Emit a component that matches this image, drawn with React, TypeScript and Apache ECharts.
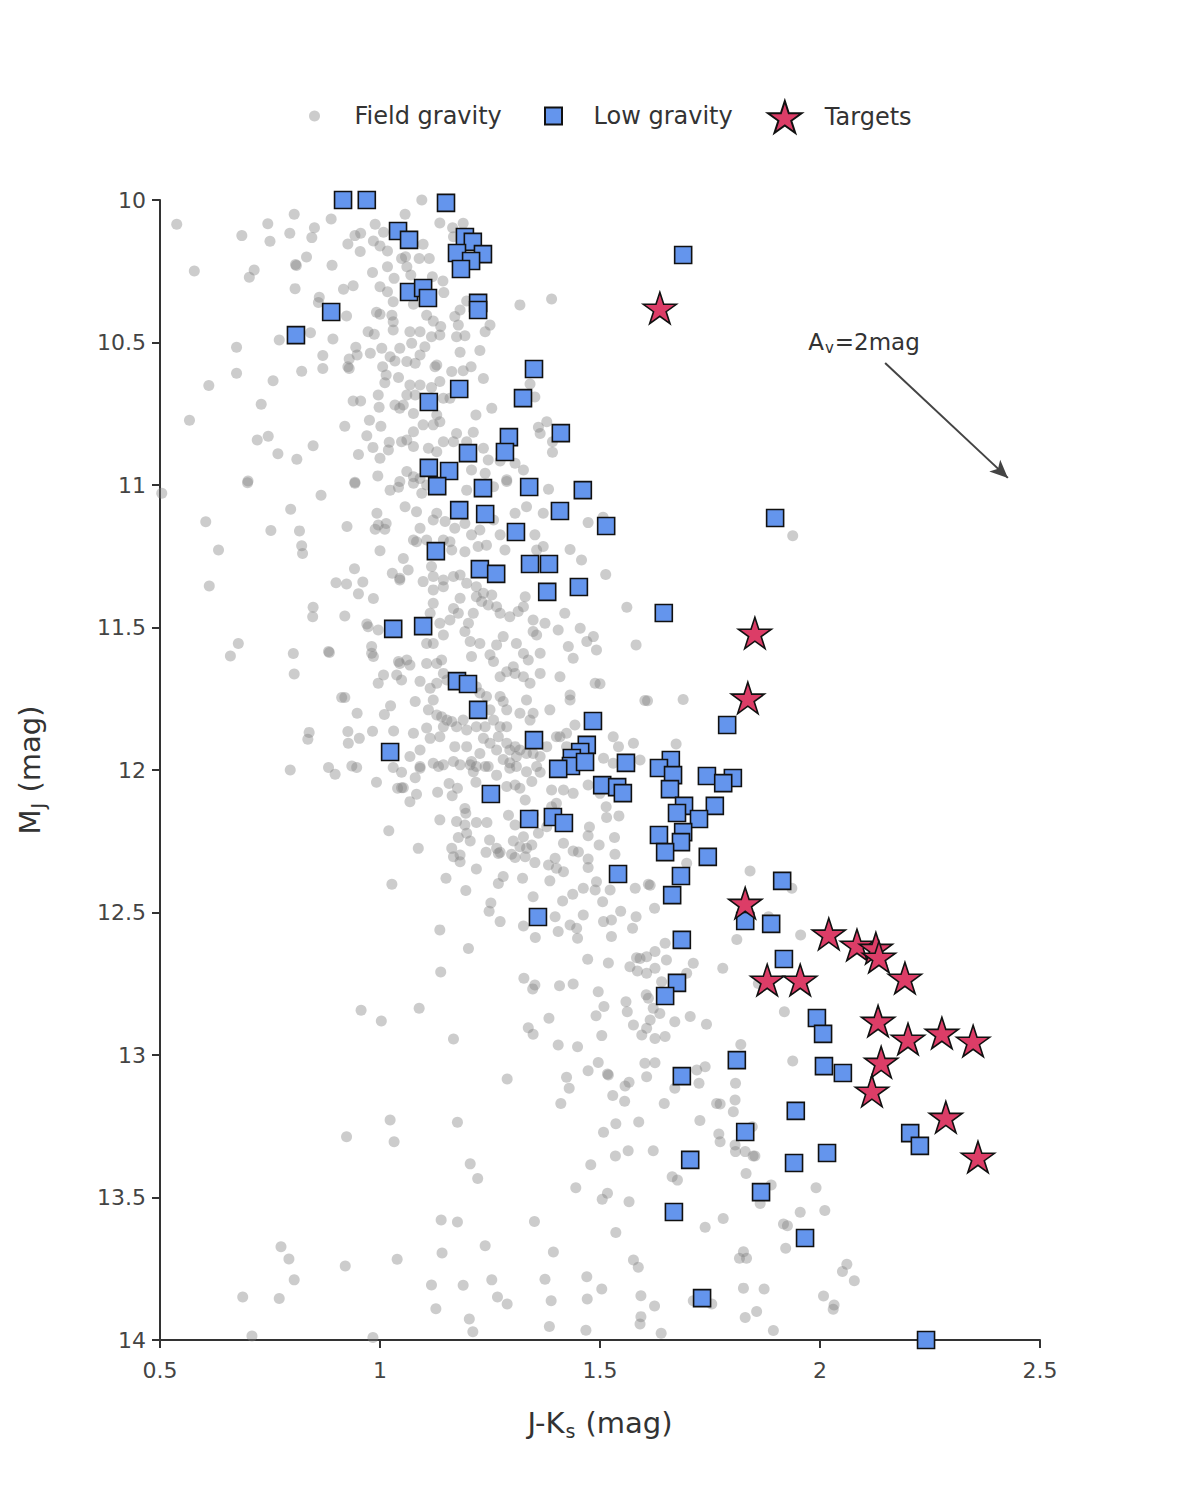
import React, { useEffect, useRef } from "react";
import * as echarts from "echarts";

// ---- Data (J-Ks, M_J) ----
const fieldGravity: number[][] = [
  [0.538,10.085],[0.578,10.249],[0.686,10.125],[0.745,10.083],[0.75,10.145],[0.805,10.05],[0.795,10.117],[0.714,10.246],[0.703,10.271],[0.808,10.226],[0.81,10.23],[0.833,10.2],[0.851,10.097],[0.845,10.132],[0.889,10.067],[0.891,10.229],[0.807,10.311],[0.917,10.313],[0.939,10.301],[0.862,10.341],[0.86,10.36],[0.924,10.407],[0.842,10.466],[0.771,10.491],[0.893,10.488],[0.674,10.517],[0.674,10.608],[0.611,10.651],[0.757,10.634],[0.822,10.601],[0.87,10.546],[0.87,10.591],[0.73,10.717],[0.567,10.773],[0.721,10.842],[0.746,10.829],[0.768,10.89],[0.811,10.91],[0.848,10.862],[0.7,10.986],[0.92,10.794],[0.943,10.99],
  [0.927,10.154],[0.943,10.125],[0.956,10.117],[0.955,10.181],[0.989,10.085],[1.008,10.113],[0.985,10.144],[1.0,10.161],[1.017,10.179],[0.983,10.254],[1.017,10.234],[1.032,10.275],[1.0,10.304],[1.017,10.322],[1.03,10.357],[1.049,10.205],[0.992,10.394],[1.0,10.401],[1.027,10.404],[1.03,10.427],[0.973,10.462],[0.987,10.471],[1.03,10.456],[0.945,10.517],[0.948,10.544],[0.978,10.538],[1.004,10.52],[1.045,10.52],[1.023,10.55],[1.034,10.565],[0.93,10.558],[0.927,10.585],[0.93,10.591],[1.006,10.585],[1.014,10.614],[1.011,10.641],[1.042,10.623],[0.996,10.684],[0.939,10.705],[0.956,10.705],[0.998,10.727],[1.034,10.719],[1.045,10.731],[0.976,10.773],[1.002,10.794],[0.97,10.827],[0.984,10.868],[1.021,10.85],[1.019,10.877],[1.0,10.906],[1.049,10.848],[0.951,10.893],[0.995,10.968],[1.045,10.988],
  [1.057,10.05],[1.095,10.0],[1.136,10.081],[1.189,10.082],[1.165,10.097],[1.167,10.129],[1.098,10.155],[1.058,10.199],[1.089,10.205],[1.112,10.205],[1.061,10.234],[1.07,10.263],[1.119,10.269],[1.143,10.284],[1.145,10.325],[1.076,10.366],[1.197,10.354],[1.182,10.386],[1.17,10.409],[1.106,10.404],[1.121,10.425],[1.138,10.444],[1.318,10.368],[1.39,10.347],[1.25,10.439],[1.239,10.462],[1.178,10.439],[1.174,10.48],[1.193,10.476],[1.068,10.462],[1.091,10.462],[1.072,10.503],[1.117,10.48],[1.136,10.474],[1.102,10.515],[1.182,10.534],[1.227,10.528],[1.091,10.544],[1.08,10.573],[1.061,10.567],[1.129,10.579],[1.125,10.585],[1.163,10.602],[1.189,10.599],[1.207,10.585],[1.235,10.626],[1.136,10.637],[1.117,10.658],[1.091,10.649],[1.068,10.649],[1.061,10.684],[1.08,10.684],[1.053,10.719],[1.076,10.749],[1.144,10.696],[1.159,10.696],[1.218,10.754],[1.254,10.731],[1.129,10.754],[1.121,10.789],[1.136,10.778],[1.098,10.789],[1.076,10.813],[1.061,10.842],[1.174,10.819],[1.167,10.848],[1.197,10.848],[1.212,10.815],[1.144,10.848],[1.076,10.865],[1.11,10.871],[1.129,10.883],[1.235,10.871],[1.246,10.912],[1.273,10.916],[1.307,10.924],[1.326,10.947],[1.208,10.947],[1.239,10.959],[1.061,10.953],[1.076,10.971],[1.091,10.977],[1.288,10.982],[1.36,10.797],[1.364,10.819],[1.392,10.848],[1.392,10.885],[1.341,10.646],[1.352,10.691],[1.379,10.778],
  [0.504,11.029],[0.699,10.992],[0.604,11.129],[0.633,11.228],[0.612,11.354],[0.752,11.16],[0.797,11.085],[0.817,11.161],[0.822,11.213],[0.824,11.24],[0.866,11.036],[0.925,11.146],[0.943,10.994],[0.993,11.099],[0.996,11.14],[1.014,11.135],[0.989,11.155],[1.011,11.155],[1.023,11.018],[1.042,11.008],[1.0,11.231],[0.942,11.294],[0.9,11.343],[0.924,11.347],[0.961,11.34],[0.951,11.382],[0.985,11.398],[1.028,11.31],[1.045,11.327],[0.848,11.429],[0.847,11.462],[0.92,11.46],[0.97,11.488],[0.973,11.497],[0.996,11.509],[0.981,11.567],[0.981,11.59],[0.985,11.602],[0.678,11.556],[0.66,11.6],[0.803,11.591],[0.883,11.584],[0.885,11.588],[0.805,11.663],[1.042,11.619],[1.038,11.667],[1.049,11.684],[1.008,11.667],[0.996,11.696],[0.913,11.746],[0.92,11.746],[0.948,11.801],[1.01,11.805],[1.024,11.775],[0.839,11.868],[0.836,11.892],[0.927,11.865],[0.928,11.906],[0.953,11.889],[0.983,11.864],[1.031,11.863],[0.883,11.991],[0.936,11.986],[0.947,11.991],
  [1.076,10.994],[1.106,11.0],[1.197,11.018],[1.258,11.006],[1.288,10.988],[1.383,11.015],[1.057,11.076],[1.083,11.094],[1.095,11.029],[1.121,11.123],[1.129,11.099],[1.148,11.128],[1.193,11.135],[1.17,11.152],[1.091,11.152],[1.076,11.193],[1.083,11.199],[1.106,11.193],[1.144,11.193],[1.159,11.199],[1.163,11.228],[1.193,11.234],[1.208,11.175],[1.227,11.158],[1.223,11.216],[1.242,11.211],[1.258,11.123],[1.273,11.175],[1.284,11.228],[1.307,11.099],[1.333,11.076],[1.371,11.099],[1.352,11.175],[1.371,11.216],[1.356,11.228],[1.432,11.226],[1.458,11.263],[1.473,11.132],[1.507,11.113],[1.513,11.314],[1.561,11.429],[1.582,11.561],[1.602,11.756],[1.053,11.258],[1.064,11.298],[1.045,11.333],[1.117,11.286],[1.121,11.321],[1.144,11.333],[1.167,11.321],[1.098,11.339],[1.121,11.368],[1.144,11.357],[1.182,11.316],[1.197,11.345],[1.219,11.357],[1.235,11.38],[1.254,11.386],[1.219,11.392],[1.231,11.409],[1.246,11.421],[1.265,11.427],[1.182,11.397],[1.167,11.433],[1.178,11.45],[1.159,11.474],[1.121,11.415],[1.114,11.45],[1.136,11.485],[1.212,11.45],[1.201,11.485],[1.193,11.514],[1.273,11.45],[1.295,11.462],[1.314,11.444],[1.326,11.427],[1.33,11.392],[1.348,11.474],[1.375,11.485],[1.405,11.509],[1.42,11.45],[1.455,11.503],[1.485,11.532],[1.47,11.549],[1.492,11.579],[1.428,11.567],[1.439,11.608],[1.348,11.514],[1.356,11.526],[1.364,11.59],[1.28,11.532],[1.265,11.561],[1.25,11.596],[1.258,11.619],[1.31,11.556],[1.326,11.591],[1.337,11.614],[1.303,11.638],[1.205,11.549],[1.208,11.602],[1.227,11.556],[1.144,11.526],[1.106,11.556],[1.121,11.556],[1.061,11.614],[1.068,11.632],[1.045,11.626],[1.106,11.626],[1.129,11.626],[1.14,11.614],[1.144,11.661],[1.152,11.684],[1.091,11.689],[1.114,11.713],[1.129,11.696],[1.273,11.673],[1.288,11.655],[1.307,11.661],[1.326,11.673],[1.341,11.696],[1.364,11.661],[1.409,11.673],[1.432,11.737],[1.432,11.754],[1.489,11.696],[1.5,11.697],[1.219,11.708],[1.227,11.73],[1.242,11.742],[1.25,11.789],[1.273,11.742],[1.28,11.76],[1.288,11.789],[1.333,11.754],[1.318,11.801],[1.341,11.825],[1.348,11.801],[1.386,11.789],[1.401,11.883],[1.424,11.871],[1.443,11.842],[1.08,11.76],[1.121,11.754],[1.11,11.789],[1.129,11.807],[1.14,11.813],[1.152,11.825],[1.163,11.83],[1.189,11.825],[1.174,11.848],[1.197,11.86],[1.219,11.848],[1.239,11.848],[1.258,11.825],[1.273,11.848],[1.288,11.848],[1.076,11.871],[1.106,11.853],[1.091,11.93],[1.114,11.889],[1.068,11.953],[1.091,11.988],[1.144,11.848],[1.136,11.883],[1.17,11.918],[1.197,11.918],[1.235,11.889],[1.25,11.906],[1.269,11.883],[1.265,11.93],[1.227,11.942],[1.208,11.97],[1.288,11.906],[1.295,11.93],[1.307,11.918],[1.31,11.953],[1.295,11.975],[1.28,11.963],[1.318,11.93],[1.333,11.942],[1.348,11.942],[1.364,11.953],[1.379,11.918],[1.409,11.883],[1.424,11.918],[1.53,11.883],[1.542,11.918],[1.576,11.906],[1.591,11.965],[1.568,11.982],[1.53,11.976],[1.508,11.959],[1.439,11.965],[1.121,11.976],[1.144,11.982],[1.167,11.97],[1.182,11.982],[1.219,11.988],[1.246,11.988],
  [1.938,11.178],[1.608,11.757],[1.689,11.753],[1.673,11.909],
  [0.796,12.0],[0.898,12.015],[0.992,12.043],[1.03,11.991],[1.049,12.008],[1.04,12.064],[1.049,12.062],[1.02,12.213],[1.027,12.401],[0.957,12.843],[1.003,12.881],
  [1.053,12.062],[1.08,12.027],[1.091,11.994],[1.083,12.085],[1.068,12.111],[1.133,11.988],[1.131,12.078],[1.157,12.047],[1.176,12.064],[1.164,12.09],[1.212,12.006],[1.218,12.043],[1.205,11.982],[1.239,11.988],[1.265,12.018],[1.288,12.058],[1.307,12.053],[1.318,12.064],[1.345,12.04],[1.364,12.008],[1.295,11.994],[1.31,11.988],[1.333,12.006],[1.356,11.988],[1.39,12.07],[1.417,12.07],[1.439,12.082],[1.473,12.053],[1.5,12.082],[1.33,12.105],[1.39,12.129],[1.401,12.117],[1.514,12.129],[1.515,12.167],[1.543,12.161],[1.568,11.988],[1.136,12.175],[1.174,12.181],[1.193,12.135],[1.195,12.152],[1.219,12.184],[1.243,12.184],[1.193,12.193],[1.197,12.222],[1.178,12.237],[1.205,12.249],[1.292,12.159],[1.307,12.193],[1.348,12.156],[1.36,12.222],[1.379,12.199],[1.476,12.2],[1.473,12.231],[1.498,12.263],[1.533,12.237],[1.087,12.275],[1.163,12.275],[1.167,12.304],[1.182,12.298],[1.182,12.322],[1.249,12.246],[1.241,12.289],[1.265,12.275],[1.269,12.293],[1.273,12.289],[1.303,12.249],[1.326,12.234],[1.345,12.263],[1.318,12.269],[1.333,12.275],[1.299,12.296],[1.307,12.307],[1.33,12.304],[1.352,12.325],[1.383,12.333],[1.398,12.31],[1.401,12.345],[1.417,12.357],[1.417,12.257],[1.439,12.284],[1.451,12.288],[1.473,12.312],[1.473,12.342],[1.534,12.296],[1.219,12.347],[1.15,12.38],[1.195,12.423],[1.269,12.398],[1.28,12.374],[1.324,12.38],[1.386,12.389],[1.462,12.415],[1.492,12.392],[1.489,12.421],[1.523,12.421],[1.58,12.415],[1.61,12.401],[1.348,12.445],[1.415,12.46],[1.438,12.436],[1.506,12.462],[1.252,12.467],[1.248,12.496],[1.273,12.532],[1.326,12.547],[1.353,12.588],[1.136,12.561],[1.201,12.626],[1.138,12.709],[1.089,12.836],[1.167,12.944],[1.398,12.515],[1.405,12.567],[1.432,12.544],[1.447,12.555],[1.449,12.59],[1.462,12.509],[1.508,12.532],[1.526,12.526],[1.547,12.496],[1.526,12.584],[1.582,12.515],[1.574,12.555],[1.472,12.664],[1.519,12.677],[1.327,12.731],[1.352,12.754],[1.347,12.768],[1.408,12.757],[1.439,12.751],[1.496,12.778],[1.509,12.83],[1.491,12.862],[1.559,12.813],[1.562,12.848],[1.583,12.659],[1.568,12.69],[1.585,12.705],[1.384,12.871],[1.337,12.904],[1.348,12.927],[1.405,12.965],[1.449,12.971],[1.504,12.932],[1.576,12.895],[1.595,12.93],[1.606,12.906],[1.605,12.789],[1.61,12.801],[1.591,12.661],[1.606,12.713],
  [1.667,12.064],[1.697,12.327],[1.614,12.404],[1.624,12.485],[1.841,12.354],[1.936,12.415],[1.883,12.515],[1.811,12.595],[1.956,12.579],[1.779,12.696],[1.712,12.678],[1.648,12.608],[1.625,12.637],[1.606,12.655],[1.651,12.667],[1.625,12.696],[1.64,12.743],[1.621,12.836],[1.636,12.854],[1.614,12.877],[1.625,12.942],[1.648,12.935],[1.67,12.883],[1.705,12.865],[1.742,12.892],[1.697,12.713],[1.86,12.749],[1.919,12.848],[1.82,12.963],[1.693,12.263],
  [1.023,13.228],[0.924,13.287],[1.032,13.304],[0.775,13.673],[0.793,13.716],[0.805,13.789],[0.688,13.849],[0.771,13.854],[0.921,13.74],[1.039,13.717],[0.709,13.986],[0.984,13.991],
  [1.289,13.084],[1.176,13.236],[1.205,13.382],[1.222,13.433],[1.139,13.579],[1.176,13.586],[1.351,13.584],[1.141,13.695],[1.239,13.669],[1.117,13.807],[1.189,13.808],[1.254,13.789],[1.267,13.849],[1.289,13.874],[1.127,13.89],[1.203,13.926],[1.211,13.971],[1.394,13.691],[1.375,13.787],[1.389,13.862],[1.385,13.953],[1.47,13.778],[1.504,13.821],[1.471,13.856],[1.468,13.966],[1.424,13.078],[1.43,13.117],[1.411,13.17],[1.473,13.055],[1.496,13.026],[1.517,13.067],[1.519,13.07],[1.529,13.142],[1.557,13.109],[1.566,13.096],[1.556,13.162],[1.602,13.029],[1.606,13.076],[1.536,13.241],[1.508,13.271],[1.588,13.235],[1.479,13.385],[1.535,13.354],[1.564,13.336],[1.445,13.466],[1.505,13.506],[1.517,13.485],[1.566,13.515],[1.536,13.623],[1.576,13.719],[1.587,13.745],[1.593,13.845],[1.593,13.918],[1.591,13.944],
  [1.625,13.027],[1.67,13.117],[1.72,13.053],[1.739,13.041],[1.725,13.099],[1.646,13.17],[1.765,13.17],[1.773,13.172],[1.808,13.099],[1.807,13.158],[1.803,13.199],[1.727,13.23],[1.77,13.277],[1.773,13.304],[1.807,13.316],[1.808,13.339],[1.83,13.339],[1.846,13.252],[1.848,13.354],[1.852,13.354],[1.938,13.021],[1.621,13.336],[1.664,13.427],[1.676,13.439],[1.832,13.416],[1.889,13.456],[1.864,13.521],[1.991,13.466],[1.78,13.574],[1.739,13.604],[1.955,13.552],[2.011,13.546],[1.917,13.593],[1.926,13.599],[1.922,13.678],[1.826,13.69],[1.817,13.713],[1.833,13.713],[2.061,13.734],[2.051,13.76],[2.078,13.792],[1.826,13.818],[1.873,13.821],[1.712,13.862],[1.754,13.874],[2.008,13.846],[2.032,13.877],[2.03,13.892],[1.856,13.9],[1.83,13.921],[1.624,13.881],[1.894,13.967],[1.639,13.976]
];

const lowGravity: number[][] = [
  [0.916,10.0],[0.97,10.0],[1.15,10.01],[1.689,10.193],[1.041,10.109],[1.066,10.14],[1.193,10.13],[1.211,10.147],[1.175,10.186],[1.234,10.19],[1.207,10.214],[1.184,10.242],[1.066,10.323],[1.098,10.309],[1.109,10.344],[1.223,10.361],[1.223,10.386],[0.889,10.393],[0.809,10.474],[1.35,10.593],[1.18,10.663],[1.325,10.695],[1.111,10.709],[1.411,10.818],[1.293,10.832],[1.2,10.888],[1.284,10.884],[1.111,10.94],[1.157,10.951],[1.13,11.004],[1.339,11.007],[1.461,11.018],[1.234,11.011],[1.18,11.088],[1.239,11.102],[1.409,11.091],[1.514,11.144],[1.898,11.116],[1.309,11.165],[1.127,11.232],[1.227,11.295],[1.264,11.312],[1.341,11.277],[1.384,11.277],[1.38,11.375],[1.452,11.358],[1.645,11.449],[1.03,11.505],[1.098,11.495],[1.175,11.688],[1.2,11.698],[1.223,11.789],[1.484,11.828],[1.789,11.842],[1.35,11.895],[1.023,11.937],[1.47,11.912],[1.455,11.937],[1.436,11.958],[1.434,11.986],[1.405,11.996],[1.466,11.972],[1.559,11.975],[1.661,11.965],[1.634,11.993],[1.666,12.018],[1.743,12.021],[1.802,12.028],[1.78,12.046],[1.505,12.053],[1.539,12.06],[1.552,12.081],[1.659,12.067],[1.252,12.084],[1.761,12.126],[1.691,12.126],[1.675,12.151],[1.725,12.172],[1.339,12.172],[1.393,12.165],[1.418,12.186],[1.689,12.218],[1.634,12.228],[1.684,12.253],[1.648,12.288],[1.745,12.305],[1.541,12.365],[1.684,12.372],[1.914,12.389],[1.664,12.439],[1.359,12.516],[1.83,12.53],[1.889,12.54],[1.686,12.596],[1.918,12.663],[1.675,12.747],[1.648,12.793],[1.993,12.87],[2.007,12.926],[1.811,13.018],[2.009,13.039],[2.052,13.063],[1.686,13.074],[1.945,13.196],[2.205,13.274],[2.227,13.319],[1.83,13.27],[1.705,13.368],[1.941,13.379],[2.016,13.344],[1.866,13.481],[1.668,13.551],[1.966,13.642],[1.732,13.853],[2.241,14.0]
];

const targets: number[][] = [
  [1.636,10.379],[1.852,11.519],[1.836,11.747],[1.83,12.467],[2.02,12.575],[2.084,12.614],[2.127,12.625],[2.134,12.656],[2.193,12.73],[1.88,12.737],[1.955,12.737],[2.132,12.881],[2.2,12.944],[2.277,12.923],[2.348,12.951],[2.139,13.025],[2.118,13.126],[2.286,13.218],[2.359,13.358]
];

// Reddening vector annotation (A_V = 2 mag)
const reddeningStart = [2.148, 10.572];
const reddeningEnd = [2.427, 10.975];
const reddeningLabelAt = [2.1, 10.498];

const STAR =
  "path://M50,0L61.2,34.5L97.6,34.5L68.2,55.9L79.4,90.5L50,69.1L20.6,90.5L31.8,55.9L2.4,34.5L38.8,34.5Z";
const SQUARE = "path://M0,0L10,0L10,10L0,10Z";

const FONT = "DejaVu Sans";
const GRAY = "rgba(128,128,128,0.4)";
const BLUE = "#6495ED";
const RED = "#DC3D67";

export default function App() {
  const ref = useRef<HTMLDivElement>(null);

  useEffect(() => {
    document.body.style.margin = "0";
    if (!ref.current) return;
    const chart = echarts.init(ref.current, null, { renderer: "svg" });

    const legendText = { fontSize: 24, color: "#333", fontFamily: FONT, lineHeight: 28 };
    const titleRich = {
      a: { fontSize: 29, color: "#333", fontFamily: FONT, lineHeight: 29 },
      s: { fontSize: 19, color: "#333", fontFamily: FONT, lineHeight: 19, padding: [16, 1, 0, 1] },
    };

    chart.setOption({
      animation: false,
      backgroundColor: "#fff",
      textStyle: { fontFamily: FONT },
      legend: [
        {
          data: ["Field gravity"],
          left: 304,
          top: 97,
          itemWidth: 70,
          itemHeight: 11,
          icon: "circle",
          textStyle: legendText,
          selectedMode: false,
        },
        {
          data: ["Low gravity"],
          left: 539,
          top: 97,
          itemWidth: 70,
          itemHeight: 17,
          icon: SQUARE,
          textStyle: legendText,
          selectedMode: false,
        },
        {
          data: ["Targets"],
          left: 762,
          top: 95,
          itemWidth: 70,
          itemHeight: 32,
          icon: STAR,
          textStyle: legendText,
          selectedMode: false,
        },
      ],
      grid: { left: 160, right: 160, top: 200, bottom: 160, containLabel: false },
      xAxis: {
        type: "value",
        min: 0.5,
        max: 2.5,
        interval: 0.5,
        name: "{a|J-K}{s|s}{a| (mag)}",
        nameLocation: "middle",
        nameGap: 68,
        nameTextStyle: { rich: titleRich },
        splitLine: { show: false },
        axisLine: { lineStyle: { color: "#333", width: 2 } },
        axisTick: { show: true, inside: false, length: 8, lineStyle: { color: "#333", width: 2 } },
        axisLabel: { fontSize: 22, color: "#444", margin: 19, fontFamily: FONT },
      },
      yAxis: {
        type: "value",
        inverse: true,
        min: 10,
        max: 14,
        interval: 0.5,
        name: "{a|M}{s|J}{a| (mag)}",
        nameLocation: "middle",
        nameRotate: 90,
        nameGap: 116,
        nameTextStyle: { rich: titleRich },
        splitLine: { show: false },
        axisLine: { show: true, lineStyle: { color: "#333", width: 2 } },
        axisTick: { show: true, inside: false, length: 8, lineStyle: { color: "#333", width: 2 } },
        axisLabel: { fontSize: 22, color: "#444", margin: 14, fontFamily: FONT },
      },
      series: [
        {
          name: "Field gravity",
          type: "scatter",
          data: fieldGravity,
          symbol: "circle",
          symbolSize: 11,
          itemStyle: { color: GRAY, opacity: 1 },
          z: 1,
        },
        {
          name: "Low gravity",
          type: "scatter",
          data: lowGravity,
          symbol: "rect",
          symbolSize: 17,
          itemStyle: { color: BLUE, borderColor: "#111", borderWidth: 1.6, opacity: 1 },
          z: 2,
        },
        {
          name: "Targets",
          type: "scatter",
          data: targets,
          symbol: STAR,
          symbolKeepAspect: true,
          symbolSize: 33,
          itemStyle: { color: RED, borderColor: "#111", borderWidth: 1.6, opacity: 1 },
          z: 3,
          markLine: {
            silent: true,
            symbol: ["none", "arrow"],
            symbolSize: [12, 18],
            label: { show: false },
            lineStyle: { color: "#444", width: 2, type: "solid", opacity: 1 },
            data: [[{ coord: reddeningStart }, { coord: reddeningEnd }]],
          },
          markPoint: {
            silent: true,
            symbol: "circle",
            symbolSize: 1,
            itemStyle: { color: "rgba(0,0,0,0)" },
            label: {
              show: true,
              position: "inside",
              formatter: "{a|A}{s|v}{a|=2mag}",
              rich: {
                a: { fontSize: 23, color: "#333", fontFamily: FONT, lineHeight: 23 },
                s: { fontSize: 15, color: "#333", fontFamily: FONT, lineHeight: 15, padding: [12, 1, 0, 1] },
              },
            },
            data: [{ coord: reddeningLabelAt }],
          },
        },
      ],
    });

    return () => chart.dispose();
  }, []);

  return <div ref={ref} style={{ width: 1200, height: 1500 }} />;
}
